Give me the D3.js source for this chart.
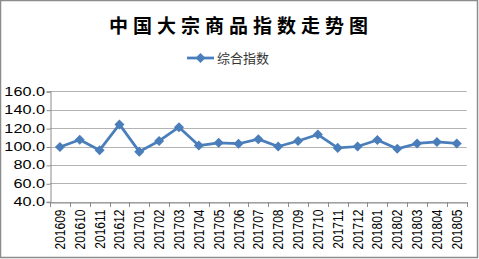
<!DOCTYPE html>
<html>
<head>
<meta charset="utf-8">
<script src="https://cdn.jsdelivr.net/npm/d3@7"></script>
<style>
body { margin: 0; background: #fff; }
text { font-family: "Liberation Sans", Arial, sans-serif; }
</style>
</head>
<body>
<div id="chart"></div>
<script>
var w = 479;
var h = 259;

// data
var months = ["201609","201610","201611","201612","201701","201702","201703","201704","201705","201706","201707",
              "201708","201709","201710","201711","201712","201801","201802","201803","201804","201805"];
var values = [99.5, 107.4, 96, 124, 94.4, 106, 121, 101, 104, 103, 108, 100, 106, 113, 98.5, 100, 107, 97.5, 103.3, 105, 103.3];
var yTicks = [40, 60, 80, 100, 120, 140, 160];
var seriesName = "综合指数";
var title = "中国大宗商品指数走势图";

var margin = {left: 50, right: 12.3, top: 91.3, bottom: 57.3};

var svg = d3.select("#chart")
            .append("svg")
            .attr("width", w)
            .attr("height", h);

// outer frame
svg.append("rect")
   .attr("x", 0.5).attr("y", 0.5)
   .attr("width", w - 2).attr("height", h - 2)
   .attr("fill", "#fff")
   .attr("stroke", "#8c8c8c")
   .attr("stroke-width", 1.5);

var x = d3.scaleBand()
          .domain(months)
          .range([margin.left, w - margin.right]);

var y = d3.scaleLinear()
          .domain([40, 160])
          .range([h - margin.bottom, margin.top]);

// gridlines
svg.append("g")
   .selectAll("line")
   .data(yTicks)
   .enter()
   .append("line")
   .attr("x1", margin.left)
   .attr("x2", w - margin.right)
   .attr("y1", function(d) { return Math.round(y(d)) + 0.5; })
   .attr("y2", function(d) { return Math.round(y(d)) + 0.5; })
   .attr("stroke", "#b3b3b3");

// y axis
var yAxis = svg.append("g")
   .attr("transform", "translate(" + (margin.left + 0.5) + ",0)")
   .call(d3.axisLeft(y).tickValues(yTicks).tickSize(4).tickFormat(d3.format(".1f")));
yAxis.selectAll("line").attr("stroke", "#8c8c8c")
     .attr("transform", "translate(0,0.5)");
yAxis.select(".domain").attr("stroke", "#8c8c8c");
// labels look stretched sideways in the original image
yAxis.selectAll("text")
     .attr("fill", "#000")
     .style("font-size", "12.5px")
     .attr("x", -5.5 / 1.3)
     .attr("transform", "scale(1.3,1)");

// x axis
var xAxis = svg.append("g")
   .attr("transform", "translate(0," + (Math.round(y(40)) + 0.5) + ")")
   .call(d3.axisBottom(x).tickSize(0).tickSizeOuter(0));
xAxis.select(".domain").attr("stroke", "#8c8c8c");
xAxis.selectAll("text")
     .attr("fill", "#000")
     .style("font-size", "12px")
     .style("text-anchor", "end")
     .attr("dy", "0.35em")
     .attr("y", 0)
     .attr("transform", "translate(0,7) scale(1.2,1) rotate(-90)");

// tick marks on band boundaries
svg.append("g")
   .selectAll("line")
   .data(months.concat(["end"]))
   .enter()
   .append("line")
   .attr("x1", function(d, i) { return Math.round(margin.left + i * x.step()) + 0.5; })
   .attr("x2", function(d, i) { return Math.round(margin.left + i * x.step()) + 0.5; })
   .attr("y1", Math.round(y(40)))
   .attr("y2", Math.round(y(40)) + 5)
   .attr("stroke", "#8c8c8c");

var cx = function(d, i) { return x(months[i]) + x.bandwidth() / 2; };

// line
var line = d3.line()
             .x(cx)
             .y(function(d) { return y(d); });

svg.append("path")
   .datum(values)
   .attr("d", line)
   .attr("fill", "none")
   .attr("stroke", "#4a7ebb")
   .attr("stroke-width", 2.75)
   .attr("stroke-linejoin", "round");

var diamond = d3.symbol().type(d3.symbolDiamond2).size(64);

svg.append("g")
   .selectAll("path")
   .data(values)
   .enter()
   .append("path")
   .attr("d", diamond)
   .attr("transform", function(d, i) { return "translate(" + cx(d, i) + "," + y(d) + ")"; })
   .attr("fill", "#4a7ebb");

// title
svg.append("text")
   .attr("x", 241)
   .attr("y", 33)
   .style("text-anchor", "middle")
   .style("font-family", "'Noto Sans CJK SC', sans-serif")
   .style("font-weight", "bold")
   .style("font-size", "19px")
   .style("letter-spacing", "5px")
   .text(title);

// legend
svg.append("line")
   .attr("x1", 187).attr("x2", 214)
   .attr("y1", 58).attr("y2", 58)
   .attr("stroke", "#4a7ebb")
   .attr("stroke-width", 2.75);
svg.append("path")
   .attr("d", diamond)
   .attr("transform", "translate(200.5,58)")
   .attr("fill", "#4a7ebb");
svg.append("text")
   .attr("x", 217)
   .attr("y", 63)
   .style("font-family", "'Noto Sans CJK SC', sans-serif")
   .style("font-size", "13px")
   .attr("fill", "#333")
   .text(seriesName);
</script>
</body>
</html>
